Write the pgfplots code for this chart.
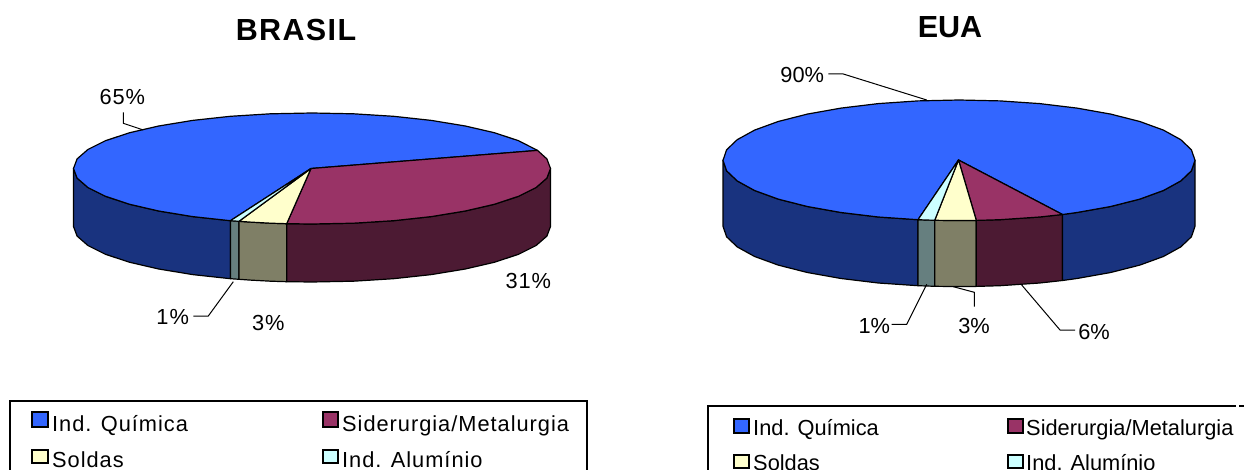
\documentclass[border=0pt]{standalone}
\usepackage{pgfplots}
\pgfplotsset{compat=1.18}
\usepackage{fontspec}
\setmainfont{Liberation Sans}
\newfontfamily\spaced[LetterSpace=4.5]{Liberation Sans}
\definecolor{azul}{HTML}{3366FF}
\definecolor{azulesc}{HTML}{19337F}
\definecolor{vinho}{HTML}{993366}
\definecolor{vinhoesc}{HTML}{4C1A33}
\definecolor{creme}{HTML}{FFFFCC}
\definecolor{oliva}{HTML}{7F7F66}
\definecolor{ciano}{HTML}{CCFFFF}
\definecolor{cinza}{HTML}{667F7F}
\pgfplotsset{
  face/.style={draw=black, line width=1.2pt, line join=round, fill=#1},
  lead/.style={draw=black, line width=1pt, line join=miter},
  box/.style={draw=black, line width=1.4pt},
  swatch/.style={draw=black, line width=1.3pt, fill=#1},
}
\newcommand{\lab}[1]{\fontsize{21.8}{22}\selectfont #1}
\newcommand{\labb}[1]{\fontsize{21.8}{22}\selectfont\spaced #1}
\begin{document}
\begin{tikzpicture}
\clip (0,0) rectangle (1244pt,470pt);
\begin{axis}[
  scale only axis, width=1244pt, height=470pt,
  xmin=0, xmax=1244, ymin=0, ymax=470, y dir=reverse,
  hide axis, clip=true, no markers,
]
% ---------- BRASIL: side wall
\addplot[face=azulesc] coordinates {(73.5,168.5)(77.1,178.1)(87.9,187.5)(105.5,196.3)(129.3,204.2)(158.7,211)(192.7,216.6)(230.4,220.7)(230.4,278.7)(192.7,274.6)(158.7,269)(129.3,262.2)(105.5,254.3)(87.9,245.5)(77.1,236.1)(73.5,226.5)} -- cycle;
\addplot[face=cinza] coordinates {(230.4,220.7)(239,221.3)(239,279.3)(230.4,278.7)} -- cycle;
\addplot[face=oliva] coordinates {(239,221.3)(250.3,222.1)(270.6,223.2)(286.7,223.7)(286.7,281.7)(270.6,281.2)(250.3,280.1)(239,279.3)} -- cycle;
\addplot[face=vinhoesc] coordinates {(286.7,223.7)(312,224)(353.4,223.2)(393.6,220.7)(431.3,216.6)(465.3,211)(494.7,204.2)(518.5,196.3)(536.1,187.5)(546.9,178.1)(550.5,168.5)(550.5,226.5)(546.9,236.1)(536.1,245.5)(518.5,254.3)(494.7,262.2)(465.3,269)(431.3,274.6)(393.6,278.7)(353.4,281.2)(312,282)(286.7,281.7)} -- cycle;
% ---------- BRASIL: top slices
\addplot[face=azul] coordinates {(311,168.5)(537.5,150.4)(518.5,140.7)(494.7,132.8)(465.3,126)(431.3,120.4)(393.6,116.3)(353.4,113.8)(312,113)(270.6,113.8)(230.4,116.3)(192.7,120.4)(158.7,126)(129.3,132.8)(105.5,140.7)(87.9,149.5)(77.1,158.9)(73.5,168.5)(77.1,178.1)(87.9,187.5)(105.5,196.3)(129.3,204.2)(158.7,211)(192.7,216.6)(230.4,220.7)} -- cycle;
\addplot[face=vinho] coordinates {(311,168.5)(537.5,150.4)(546.9,158.9)(550.5,168.5)(546.9,178.1)(536.1,187.5)(518.5,196.3)(494.7,204.2)(465.3,211)(431.3,216.6)(393.6,220.7)(353.4,223.2)(312,224)(286.7,223.7)} -- cycle;
\addplot[face=creme] coordinates {(311,168.5)(286.7,223.7)(270.6,223.2)(250.3,222.1)(239,221.3)} -- cycle;
\addplot[face=ciano] coordinates {(311,168.5)(239,221.3)(230.4,220.7)} -- cycle;
% ---------- BRASIL: leader lines
\addplot[lead] coordinates {(123.3,112.3)(123.3,123.3)(143.3,130)};
\addplot[lead] coordinates {(193.3,316)(208.3,316)(233.3,281.7)};
% ---------- EUA: side wall
\addplot[face=azulesc] coordinates {(723,160.3)(726.6,170.8)(737.2,180.9)(754.6,190.5)(778.2,199.1)(807.3,206.5)(841,212.5)(878.3,217)(918,219.7)(918,285.7)(878.3,283)(841,278.5)(807.3,272.5)(778.2,265.1)(754.6,256.5)(737.2,246.9)(726.6,236.8)(723,226.3)} -- cycle;
\addplot[face=cinza] coordinates {(918,219.7)(934.7,220.3)(934.7,286.3)(918,285.7)} -- cycle;
\addplot[face=oliva] coordinates {(934.7,220.3)(959,220.6)(976.3,220.4)(976.3,286.4)(959,286.6)(934.7,286.3)} -- cycle;
\addplot[face=vinhoesc] coordinates {(976.3,220.4)(1000,219.7)(1039.7,217)(1062.5,214.5)(1062.5,280.5)(1039.7,283)(1000,285.7)(976.3,286.4)} -- cycle;
\addplot[face=azulesc] coordinates {(1062.5,214.5)(1077,212.5)(1110.7,206.5)(1139.8,199.1)(1163.4,190.5)(1180.8,180.9)(1191.4,170.8)(1195,160.3)(1195,226.3)(1191.4,236.8)(1180.8,246.9)(1163.4,256.5)(1139.8,265.1)(1110.7,272.5)(1077,278.5)(1062.5,280.5)} -- cycle;
% ---------- EUA: top slices
\addplot[face=azul] coordinates {(958.5,160)(1062.5,214.5)(1077,212.5)(1110.7,206.5)(1139.8,199.1)(1163.4,190.5)(1180.8,180.9)(1191.4,170.8)(1195,160.3)(1191.4,149.8)(1180.8,139.7)(1163.4,130.1)(1139.8,121.5)(1110.7,114.1)(1077,108.1)(1039.7,103.6)(1000,100.9)(959,100)(918,100.9)(878.3,103.6)(841,108.1)(807.3,114.1)(778.2,121.5)(754.6,130.1)(737.2,139.7)(726.6,149.8)(723,160.3)(726.6,170.8)(737.2,180.9)(754.6,190.5)(778.2,199.1)(807.3,206.5)(841,212.5)(878.3,217)(918,219.7)} -- cycle;
\addplot[face=vinho] coordinates {(958.5,160)(976.3,220.4)(1000,219.7)(1039.7,217)(1062.5,214.5)} -- cycle;
\addplot[face=creme] coordinates {(958.5,160)(934.7,220.3)(959,220.6)(976.3,220.4)} -- cycle;
\addplot[face=ciano] coordinates {(958.5,160)(918,219.7)(934.7,220.3)} -- cycle;
% ---------- EUA: leader lines
\addplot[lead] coordinates {(828.3,74)(843.3,74)(926.7,100)};
\addplot[lead] coordinates {(891.7,324.3)(906.7,324.3)(926.7,284.3)};
\addplot[lead] coordinates {(974.3,306.7)(974.3,292.3)(953.3,286.7)};
\addplot[lead] coordinates {(1075,330)(1060,330)(1021.7,285)};
% ---------- legend frames
\addplot[box] coordinates {(10,480)(10,401)(587,401)(587,480)};
\addplot[box] coordinates {(708,480)(708,406)(1236,406)};
\addplot[box] coordinates {(1239,406)(1244,406)};
% ---------- legend keys
\addplot[swatch=azul] coordinates {(32,412)(48,412)(48,427)(32,427)} -- cycle;
\addplot[swatch=vinho] coordinates {(323,412)(338,412)(338,427)(323,427)} -- cycle;
\addplot[swatch=creme] coordinates {(32,450)(48,450)(48,463)(32,463)} -- cycle;
\addplot[swatch=ciano] coordinates {(323,450)(338,450)(338,463)(323,463)} -- cycle;
\addplot[swatch=azul] coordinates {(734,419)(749,419)(749,433)(734,433)} -- cycle;
\addplot[swatch=vinho] coordinates {(1008,419)(1023,419)(1023,433)(1008,433)} -- cycle;
\addplot[swatch=creme] coordinates {(734,455)(749,455)(749,468)(734,468)} -- cycle;
\addplot[swatch=ciano] coordinates {(1008,455)(1023,455)(1023,468)(1008,468)} -- cycle;
% ---------- titles and labels
\node[font=\fontsize{30.5}{31}\selectfont\spaced\bfseries] at (axis cs:296,30) {BRASIL};
\node[font=\fontsize{30.5}{31}\selectfont\bfseries] at (axis cs:950,27) {EUA};
\node at (axis cs:122.3,96.7) {\labb{65\%}};
\node at (axis cs:528.3,281) {\labb{31\%}};
\node at (axis cs:172.7,316.7) {\labb{1\%}};
\node at (axis cs:268.3,323.3) {\labb{3\%}};
\node at (axis cs:802.3,75) {\lab{90\%}};
\node at (axis cs:874.3,325.7) {\lab{1\%}};
\node at (axis cs:974,325.7) {\lab{3\%}};
\node at (axis cs:1094,331.7) {\lab{6\%}};
\node[anchor=base west, inner sep=0pt] at (axis cs:52,431) {\labb{Ind. Química}};
\node[anchor=base west, inner sep=0pt] at (axis cs:342,431) {\labb{Siderurgia/Metalurgia}};
\node[anchor=base west, inner sep=0pt] at (axis cs:52,467) {\labb{Soldas}};
\node[anchor=base west, inner sep=0pt] at (axis cs:342,467) {\labb{Ind. Alumínio}};
\node[anchor=base west, inner sep=0pt] at (axis cs:753,435) {\lab{Ind. Química}};
\node[anchor=base west, inner sep=0pt] at (axis cs:1026,435) {\lab{Siderurgia/Metalurgia}};
\node[anchor=base west, inner sep=0pt] at (axis cs:753,470) {\lab{Soldas}};
\node[anchor=base west, inner sep=0pt] at (axis cs:1026,470) {\lab{Ind. Alumínio}};
\end{axis}
\end{tikzpicture}
\end{document}
